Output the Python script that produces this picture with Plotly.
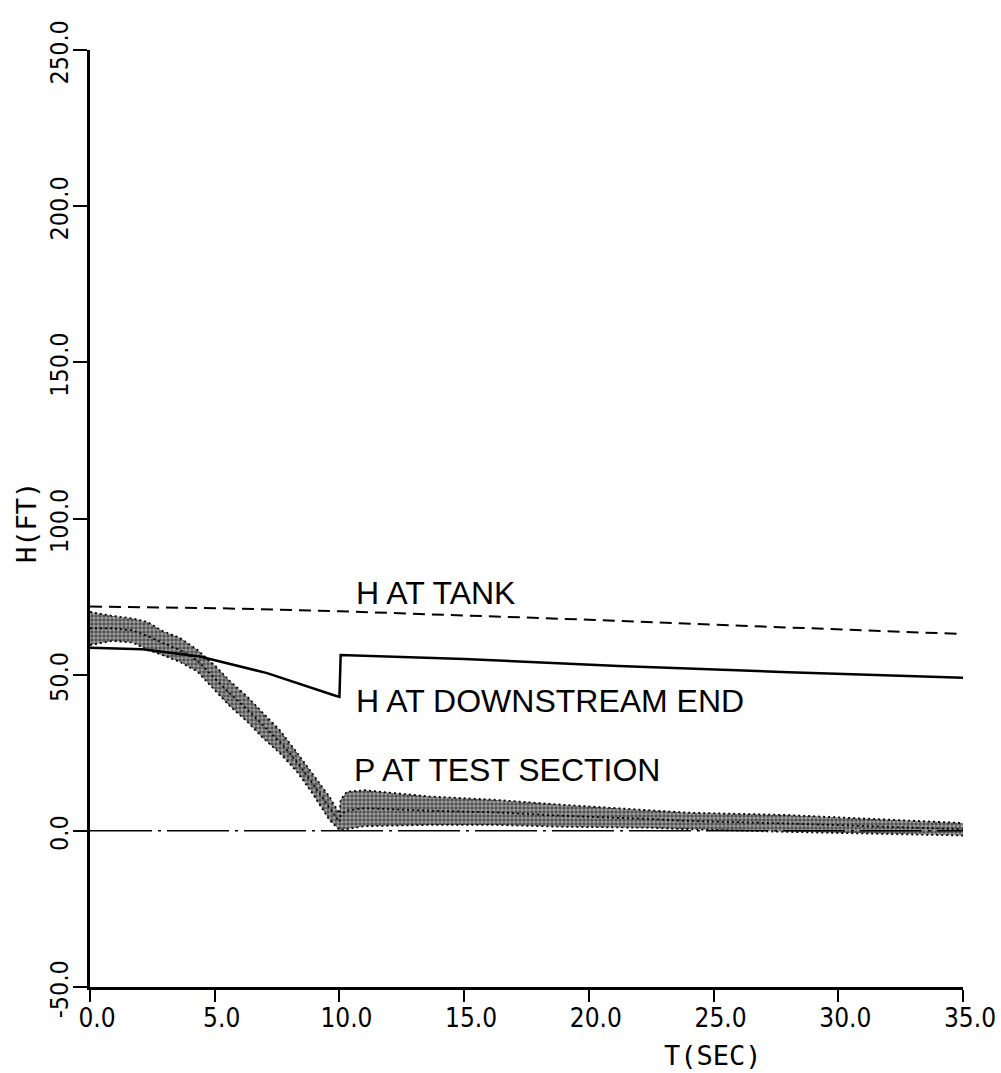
import plotly.graph_objects as go

# Time axis ticks and value ticks
x_ticks = [0.0, 5.0, 10.0, 15.0, 20.0, 25.0, 30.0, 35.0]
y_ticks = [-50.0, 0.0, 50.0, 100.0, 150.0, 200.0, 250.0]

# H at tank (dashed)
tank_t = [0.0, 5.0, 10.0, 15.0, 20.0, 25.0, 30.0, 35.0]
tank_h = [71.8, 71.3, 70.3, 69.0, 67.6, 66.0, 64.5, 63.0]

# H at downstream end (solid, with the jump at t = 10 s)
down_t = [0.0, 2.1, 4.4, 7.1, 9.75, 10.0, 10.05, 15.0, 21.2, 28.0, 35.0]
down_h = [58.6, 58.1, 55.8, 50.5, 43.5, 42.9, 56.3, 55.0, 52.8, 50.8, 49.0]

# P at test section: upper and lower edges of the fluctuating trace
p_t = [0.0, 0.9, 1.7, 2.3, 2.9, 3.6, 4.3, 5.0, 5.6, 6.3, 6.9, 7.6, 8.3, 8.9, 9.6, 10.0,
       10.05, 10.3, 11.0, 13.6, 16.3, 19.0, 22.3, 24.0, 27.8, 31.0, 34.5, 35.0]
p_upper = [70.1, 68.8, 68.0, 66.9, 64.0, 61.8, 58.0, 53.0, 48.0, 43.0, 38.0, 32.3, 25.0, 18.6, 10.9, 5.5,
           10.0, 12.5, 13.0, 11.0, 9.9, 8.3, 6.7, 5.8, 5.1, 4.0, 2.9, 2.5]
p_lower = [59.5, 60.8, 60.3, 58.0, 56.3, 54.1, 51.0, 45.0, 40.0, 35.0, 30.0, 25.0, 18.9, 12.2, 3.5, 0.3,
           0.3, 0.5, 1.5, 1.9, 1.9, 1.3, 1.0, 0.5, -0.3, -0.8, -1.3, -1.5]

# Zero reference
zero_t = [0.0, 35.0]
zero_h = [0.0, 0.0]

labels = ["H AT TANK", "H AT DOWNSTREAM END", "P AT TEST SECTION"]
label_t = [10.6, 10.6, 10.5]
label_h = [76.2, 41.6, 19.5]

TICK_FONT = "DejaVu Sans Condensed, DejaVu Sans Mono"

fig = go.Figure()

# Stippled band for the pressure trace
band_x = p_t + p_t[::-1]
band_y = p_upper + p_lower[::-1]
fig.add_trace(go.Scatter(
    x=band_x, y=band_y, mode="lines", fill="toself",
    line=dict(width=0, color="rgba(0,0,0,0)"),
    fillcolor="rgba(0,0,0,0.45)",
    fillpattern=dict(shape=".", fgcolor="black", bgcolor="rgba(90,90,90,0.55)",
                     size=4, solidity=0.6),
    hoverinfo="skip", showlegend=False,
))
# Dotted streaks inside the band
p_mid = [(u + l) / 2 for u, l in zip(p_upper, p_lower)]
for edge in (p_upper, p_mid, p_lower):
    fig.add_trace(go.Scatter(
        x=p_t, y=edge, mode="lines",
        line=dict(color="black", width=1.8, dash="2px,3px"),
        hoverinfo="skip", showlegend=False,
    ))

fig.add_trace(go.Scatter(
    x=zero_t, y=zero_h, mode="lines",
    line=dict(color="black", width=1.5, dash="62px,6px,3px,6px"),
    showlegend=False,
))
fig.add_trace(go.Scatter(
    x=tank_t, y=tank_h, mode="lines",
    line=dict(color="black", width=2, dash="12px,7px"),
    showlegend=False,
))
fig.add_trace(go.Scatter(
    x=down_t, y=down_h, mode="lines",
    line=dict(color="black", width=2.5),
    showlegend=False,
))

for txt, tx, hy in zip(labels, label_t, label_h):
    fig.add_annotation(x=tx, y=hy, xref="x", yref="y", text=txt, showarrow=False,
                       xanchor="left", yanchor="middle",
                       font=dict(family="Liberation Sans", size=32, color="black"))

fig.add_annotation(x=0.7136, y=-0.0736, xref="paper", yref="paper", text="T(SEC)",
                   showarrow=False, xanchor="center", yanchor="middle",
                   font=dict(family="DejaVu Sans Mono", size=27, color="black"))
fig.add_annotation(x=-0.0722, y=0.4963, xref="paper", yref="paper", text="H(FT)",
                   showarrow=False, xanchor="center", yanchor="middle", textangle=-90,
                   font=dict(family="DejaVu Sans Mono", size=27, color="black"))

fig.update_layout(
    width=1001, height=1073,
    margin=dict(l=90, r=38, t=50, b=86, autoexpand=False),
    paper_bgcolor="white", plot_bgcolor="white",
    showlegend=False,
)
fig.update_xaxes(
    range=[0, 35], tickvals=x_ticks, ticktext=[f"{v:.1f}" for v in x_ticks],
    showgrid=False, zeroline=False, showline=True, linecolor="black", linewidth=2.5,
    ticks="outside", ticklen=12, tickwidth=2, tickcolor="black",
    ticklabelshift=7, ticklabelstandoff=-6, automargin=False,
    tickfont=dict(family=TICK_FONT, size=26, color="black"),
)
fig.update_yaxes(
    range=[-50, 250], tickvals=y_ticks, ticktext=[f"{v:.1f}" for v in y_ticks],
    showgrid=False, zeroline=False, showline=True, linecolor="black", linewidth=2.5,
    ticks="outside", ticklen=14, tickwidth=2, tickcolor="black",
    tickangle=-90, ticklabelshift=6, ticklabelstandoff=-5, automargin=False,
    tickfont=dict(family=TICK_FONT, size=25, color="black"),
)

fig.write_html("out.html")
